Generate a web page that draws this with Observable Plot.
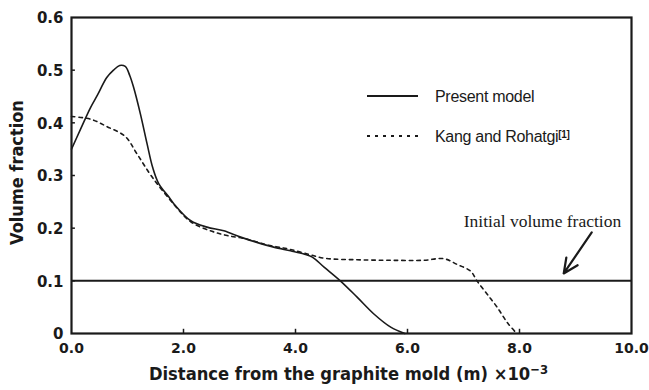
<!DOCTYPE html>
<html><head><meta charset="utf-8">
<script src="https://cdn.jsdelivr.net/npm/d3@7"></script>
<script src="https://cdn.jsdelivr.net/npm/@observablehq/plot@0.6"></script>
<style>
body{margin:0;background:#fff}
#chart{position:relative;width:649px;height:390px}
</style>
</head><body><div id="chart"></div>
<script>
// Present model (solid)
const presentX = [0, 0.17, 0.34, 0.46, 0.63, 0.75, 0.86, 0.96, 1.04, 1.11, 1.23, 1.35, 1.45, 1.56, 1.74, 1.83, 2.13, 2.42, 2.72, 3.02, 3.31, 3.61, 3.91, 4.15, 4.3, 4.51, 4.8, 5.1, 5.4, 5.7, 5.95];
const presentY = [0.350, 0.390, 0.429, 0.452, 0.486, 0.500, 0.509, 0.507, 0.490, 0.467, 0.417, 0.360, 0.315, 0.284, 0.259, 0.246, 0.214, 0.202, 0.195, 0.183, 0.173, 0.164, 0.157, 0.151, 0.145, 0.126, 0.100, 0.069, 0.037, 0.012, 0.0];
// Kang and Rohatgi (dotted)
const kangX = [0, 0.34, 0.63, 0.96, 1.17, 1.44, 1.83, 2.13, 2.51, 2.78, 3.1, 3.5, 3.85, 4.15, 4.51, 5.1, 5.7, 6.29, 6.65, 6.89, 7.13, 7.24, 7.42, 7.6, 7.78, 7.95];
const kangY = [0.412, 0.407, 0.393, 0.374, 0.341, 0.297, 0.245, 0.212, 0.194, 0.186, 0.180, 0.168, 0.161, 0.153, 0.143, 0.140, 0.139, 0.139, 0.142, 0.131, 0.118, 0.100, 0.075, 0.050, 0.021, 0.0];
const initialFraction = [0.1];
const xTicks = [0, 2, 4, 6, 8, 10];
const yTicks = [0, 0.1, 0.2, 0.3, 0.4, 0.5, 0.6];
const seriesNames = ["Present model", "Kang and Rohatgi"];
const annotationText = ["Initial volume fraction"];
const annotationPos = [8.41, 0.213];
const arrowFrom = [9.29, 0.192];
const arrowTo = [8.79, 0.114];
const xTitle = "Distance from the graphite mold (m) \u00d710";
const yTitle = "Volume fraction";

const present = presentX.map((x, i) => ({x, y: presentY[i]}));
const kang = kangX.map((x, i) => ({x, y: kangY[i]}));

const tickFont = "'DejaVu Sans',sans-serif";
const titleFont = "'DejaVu Sans Condensed','DejaVu Sans',sans-serif";
const ink = "#1a1a1a";

const svg = Plot.plot({
  width: 649, height: 390,
  marginLeft: 71, marginRight: 18, marginTop: 17, marginBottom: 57,
  style: {background: "#fff", color: ink},
  x: {domain: [0, 10], axis: null},
  y: {domain: [0, 0.6], axis: null},
  marks: [
    Plot.ruleY(initialFraction, {stroke: ink, strokeWidth: 2}),
    Plot.line(kang, {x: "x", y: "y", curve: "catmull-rom", stroke: ink, strokeWidth: 1.6, strokeDasharray: "3.5,4"}),
    Plot.line(present, {x: "x", y: "y", curve: "catmull-rom", stroke: ink, strokeWidth: 1.6}),
    Plot.ruleX(xTicks.slice(1, -1), {y1: 0, y2: 0.008, stroke: ink, strokeWidth: 1.5}),
    Plot.ruleY(yTicks.slice(1, -1), {x1: 0, x2: 0.07, stroke: ink, strokeWidth: 1.5}),
    Plot.frame({stroke: ink, strokeWidth: 2.2}),
    Plot.text(xTicks, {x: d => d, frameAnchor: "bottom", dy: 19, text: d => d.toFixed(1), textAnchor: "middle",
      fontSize: 14, fontWeight: "bold", fontFamily: tickFont, fill: ink}),
    Plot.text(yTicks, {y: d => d, frameAnchor: "left", dx: -8, dy: 1, text: d => d === 0 ? "0" : d.toFixed(1), textAnchor: "end",
      fontSize: 15, fontWeight: "bold", fontFamily: tickFont, fill: ink}),
    Plot.text(annotationText, {x: annotationPos[0], y: annotationPos[1], text: d => d, fontSize: 17.5,
      fontFamily: "'Liberation Serif','Times New Roman',serif", fill: ink}),
    Plot.arrow([{x1: arrowFrom[0], y1: arrowFrom[1], x2: arrowTo[0], y2: arrowTo[1]}],
      {x1: "x1", y1: "y1", x2: "x2", y2: "y2", stroke: ink, strokeWidth: 2.2, headLength: 11, headAngle: 50}),
    Plot.text([xTitle], {frameAnchor: "bottom", dy: 46, dx: -3, textAnchor: "middle", text: d => d, fontSize: 18.2, fontWeight: 900,
      fontFamily: titleFont, fill: ink}),
    Plot.text([yTitle], {frameAnchor: "left", dx: -54, dy: -3, rotate: -90, textAnchor: "middle", text: d => d, fontSize: 18, fontWeight: 900,
      fontFamily: titleFont, fill: ink})
  ]
});

// superscript exponent on the x title
d3.select(svg).selectAll("text").filter(function(){ return this.textContent === xTitle; })
  .append("tspan").attr("dy", "-0.45em").attr("font-size", 13).text("\u22123");

// legend
const lg = d3.select(svg).append("g").attr("font-family", "'Liberation Sans',Arial,sans-serif")
  .attr("font-size", 16).attr("fill", ink).attr("text-anchor", "start");
const lgY = [96, 136];
lg.append("line").attr("x1", 367).attr("x2", 418).attr("y1", lgY[0]).attr("y2", lgY[0]).attr("stroke", ink).attr("stroke-width", 2);
lg.append("line").attr("x1", 367).attr("x2", 422).attr("y1", lgY[1]).attr("y2", lgY[1]).attr("stroke", ink).attr("stroke-width", 2).attr("stroke-dasharray", "3,5");
lg.append("text").attr("x", 435).attr("y", lgY[0]).attr("dy", "0.35em").attr("letter-spacing", "-0.3").text(seriesNames[0]);
const t2 = lg.append("text").attr("x", 435).attr("y", lgY[1]).attr("dy", "0.35em").attr("letter-spacing", "-0.3").text(seriesNames[1]);
t2.append("tspan").attr("dy", "-0.4em").attr("font-size", 10).attr("font-weight", "bold").text("[1]");

document.getElementById("chart").appendChild(svg);
</script>
</body></html>
